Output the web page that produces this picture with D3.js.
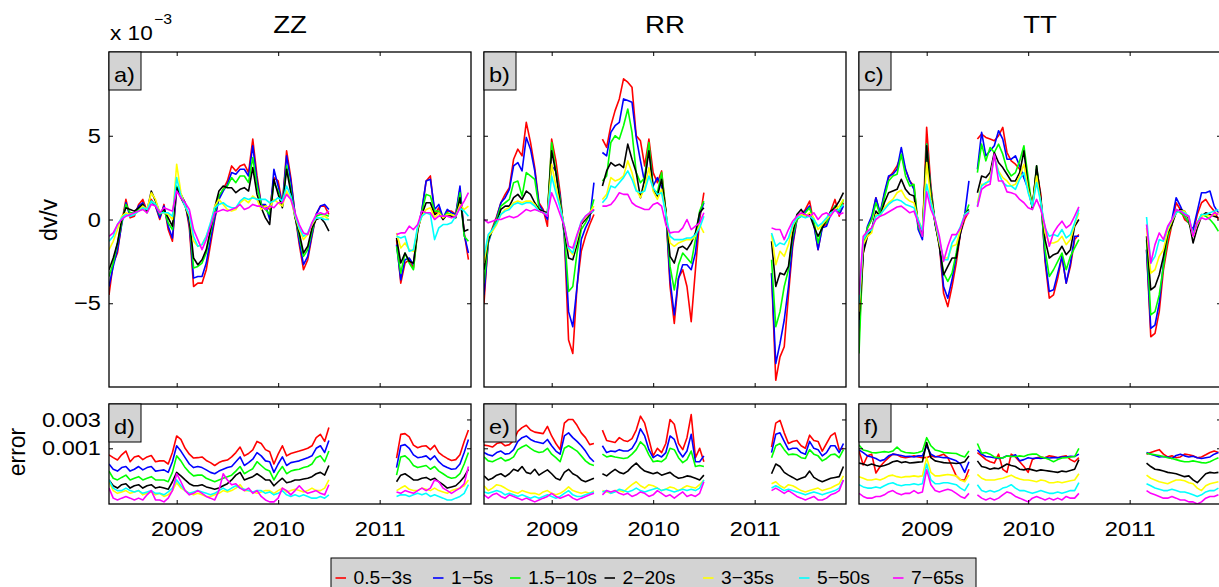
<!DOCTYPE html>
<html>
<head>
<meta charset="utf-8">
<script src="https://cdn.jsdelivr.net/npm/d3@7"></script>
<style>
  body { margin: 0; background: #fff; }
  text { font-family: "Liberation Sans", Arial, Helvetica, sans-serif; fill: #000; }
</style>
</head>
<body>
<svg id="fig" width="1219" height="587"></svg>
<script>
// ---------------------------------------------------------------------------
// Velocity changes (dv/v) and their errors for seven period bands,
// for the ZZ, RR and TT components.  Two campaigns, sampled every half month
// starting May 2008; a null marks a missing sample.
// ---------------------------------------------------------------------------
const _ = null;
const bands = ["0.5−3s", "1−5s", "1.5−10s", "2−20s", "3−35s", "5−50s", "7−65s"];
const bandColors = ["#ff0000", "#0000ff", "#00ff00", "#000000", "#ffff00", "#00ffff", "#ff00ff"];
const components = ["ZZ", "RR", "TT"];
const topTags = ["a)", "b)", "c)"];
const bottomTags = ["d)", "e)", "f)"];
const yearTicks = [2009, 2010, 2011];
const dvvTicks = [-5, 0, 5];
const errTicks = [1, 3];                 // units of 1e-3
const errTickLabels = ["0.001", "0.003"];
const sampleStart = 2008.333, sampleStep = 1 / 24;
const campaignOffsets = [0, 68];

// dv/v (x 1e-3), one row per band: [first campaign, second campaign]
const dvvZZ = [
  [[-4.5,-2.6,-2.0,-0.2,1.2,0.1,0.2,0.9,1.2,0.5,1.2,0.8,0.0,0.9,-0.6,-1.3,1.8,1.5,1.0,-0.5,-4.0,-3.8,-3.8,-3.0,-1.5,0.0,1.3,1.8,2.3,3.2,2.9,3.2,3.3,2.8,4.8,2.6,0.9,0.8,0.6,2.5,2.3,0.9,4.1,2.5,0.3,-1.5,-3.0,-2.4,-1.0,0.3,0.8,0.8,0.3],
   [-1.2,-3.8,-2.6,-2.4,-2.9,-0.7,0.5,2.3,2.6,0.3,0.7,0.0,0.5,0.5,0.3,1.8,-0.8,-2.4]],
  [[-4.0,-2.8,-1.8,-0.3,1.0,0.2,0.3,0.8,1.0,0.5,1.1,0.8,0.1,0.8,-0.4,-1.1,1.8,1.5,1.0,-0.3,-3.5,-3.4,-3.4,-2.6,-1.2,0.1,1.2,1.7,2.1,2.8,2.7,3.0,3.0,2.6,4.4,2.3,0.9,0.9,0.0,3.0,2.0,0.9,3.8,2.3,0.3,-1.3,-2.7,-2.2,-0.9,0.3,0.8,0.9,0.6],
   [-1.5,-3.6,-2.4,-2.3,-2.7,-0.6,0.6,2.3,2.4,0.6,0.9,0.1,0.6,0.4,0.3,2.0,-0.9,-2.0]],
  [[-3.4,-2.6,-1.4,-0.2,0.9,0.4,0.4,0.6,0.9,0.4,1.1,0.9,0.3,0.6,-0.2,-0.6,2.0,1.5,0.9,0.0,-2.9,-2.8,-2.6,-2.0,-0.8,0.4,1.4,1.8,2.0,2.5,2.2,2.6,2.6,2.2,3.7,2.0,0.9,0.6,0.3,2.2,1.7,0.8,3.2,1.8,0.2,-1.0,-2.2,-1.8,-0.7,0.2,0.3,0.3,0.2],
   [-1.6,-3.2,-2.0,-2.6,-3.0,-0.6,0.5,1.5,1.4,0.5,0.5,0.1,0.4,0.3,0.2,1.6,-1.0,-1.3]],
  [[-3.0,-2.3,-1.4,0.0,0.7,0.6,0.5,0.7,0.9,0.5,1.7,1.1,0.4,0.6,0.1,-0.4,1.9,1.3,0.8,0.0,-2.3,-2.7,-2.4,-1.8,-0.6,0.7,1.7,2.0,1.9,1.9,1.6,1.8,1.9,1.7,3.1,1.5,0.7,0.1,-0.3,2.4,1.5,0.7,3.0,1.6,0.1,-0.8,-2.0,-1.6,-0.5,0.0,0.1,-0.2,-0.7],
   [-1.1,-2.6,-2.0,-2.5,-2.6,-0.6,0.3,1.0,1.0,0.3,0.4,0.0,0.3,0.2,0.1,1.3,-0.7,-0.6]],
  [[-1.8,-1.3,-0.6,0.2,0.4,0.3,0.3,0.5,0.8,0.6,1.6,1.2,0.4,0.4,0.3,0.0,3.3,1.6,0.8,0.2,-1.3,-1.6,-1.5,-1.0,-0.3,0.8,1.2,0.9,0.6,0.5,0.6,1.0,1.2,1.0,1.4,1.2,0.6,0.8,0.7,1.2,1.0,0.8,1.7,1.2,0.2,-0.6,-1.2,-0.9,-0.3,0.1,0.1,0.2,0.0],
   [-0.8,-1.7,-1.4,-1.8,-1.9,-0.5,0.2,0.6,0.7,0.1,0.4,0.1,0.3,0.3,0.2,0.9,0.6,0.8]],
  [[-1.3,-1.0,-0.3,0.1,0.3,0.2,0.3,0.5,0.7,0.6,1.1,0.9,0.4,0.4,0.4,0.2,2.5,1.4,0.8,0.3,-1.0,-1.6,-1.5,-1.0,-0.2,0.7,0.9,1.0,0.8,0.7,0.7,1.1,1.3,1.2,1.3,1.2,1.2,1.2,1.0,1.1,1.3,1.1,2.0,1.4,0.3,-0.5,-1.0,-0.8,-0.2,0.1,0.1,0.0,0.0],
   [-1.0,-1.1,-1.0,-1.9,-1.8,-0.4,0.2,0.4,0.3,-1.2,-0.5,-0.3,-0.3,-0.2,0.2,0.7,0.5,0.2]],
  [[-1.0,-0.8,-0.3,0.0,0.2,0.3,0.4,0.5,0.6,0.4,0.9,0.8,0.4,0.7,0.6,0.5,1.7,1.3,1.0,0.6,-0.6,-1.2,-1.8,-1.2,-0.4,0.4,0.5,0.6,0.5,0.6,0.7,0.9,0.6,0.7,0.9,0.8,0.8,0.6,0.8,0.7,1.0,1.0,1.5,1.2,0.4,-0.3,-0.8,-0.9,-0.2,0.3,0.4,0.3,0.5],
   [-0.9,-0.8,-0.8,-0.4,-0.6,-0.3,0.5,0.4,0.4,0.0,0.2,0.2,0.2,0.1,0.2,0.7,1.1,1.6]]
];

const dvvRR = [
  [[-5.0,-1.2,-0.5,0.2,1.0,1.5,1.9,3.6,4.2,3.8,5.8,4.6,3.1,1.0,0.6,-0.4,4.8,3.5,1.6,-1.0,-7.2,-8.0,-4.0,-1.9,-1.0,-0.3,0.3,_,4.8,4.3,5.6,6.5,7.2,8.4,8.2,7.9,5.0,4.7,3.2,4.8,2.8,2.2,2.9,0.5,-4.0,-6.2,-3.5,-3.0,-4.0,-6.1,-3.0,0.0,1.6],
   [-3.2,-9.6,-8.2,-7.6,-4.5,-1.6,0.0,0.3,0.6,1.1,-0.2,-1.8,-0.4,-0.3,0.5,1.2,0.2,1.0]],
  [[-4.5,-1.4,-0.6,0.1,1.0,1.3,1.8,3.2,3.4,2.9,4.9,4.2,2.9,0.9,0.5,0.0,3.2,2.9,1.4,-1.0,-5.5,-6.4,-4.0,-1.2,-0.5,0.0,2.2,_,4.0,3.8,5.2,5.6,5.8,7.2,7.1,7.0,4.9,3.5,2.2,4.4,2.0,2.5,2.0,0.5,-3.6,-5.7,-3.5,-2.7,-2.7,-3.0,-2.0,0.3,1.0],
   [-3.2,-8.6,-7.4,-6.0,-4.0,-1.4,0.0,0.3,0.5,0.8,-0.3,-1.8,-0.5,-0.4,0.3,0.8,0.3,0.8]],
  [[-3.8,-1.3,-0.6,0.0,0.8,1.0,1.2,2.2,2.3,1.4,2.8,2.6,2.4,0.7,0.4,0.3,4.6,2.9,1.2,-0.8,-4.3,-4.0,-2.0,-0.6,-0.2,0.3,1.2,_,2.3,2.6,4.6,5.0,4.8,5.6,6.6,5.2,2.8,2.2,2.5,4.6,1.8,1.6,2.8,0.5,-2.8,-4.2,-2.7,-2.0,-2.3,-2.6,-1.2,0.5,1.1],
   [-2.4,-6.4,-5.5,-4.0,-3.0,-1.0,0.0,0.2,0.4,0.7,-0.1,-1.4,-0.3,-0.2,0.4,0.8,0.5,1.2]],
  [[-3.0,-1.2,-0.6,-0.2,0.6,0.8,0.8,1.3,1.5,1.2,1.7,1.5,1.0,0.6,0.5,0.4,4.1,2.8,1.0,-0.6,-2.3,-2.4,-1.5,-0.3,0.0,0.3,0.6,_,2.0,2.9,3.4,3.2,3.3,3.1,4.5,3.6,2.8,1.3,2.4,4.1,1.8,1.4,2.4,0.5,-2.2,-2.6,-1.7,-1.6,-1.8,-1.4,-0.8,0.4,0.7],
   [-1.3,-4.0,-3.2,-3.3,-2.8,-0.8,0.3,0.6,0.2,0.3,-0.4,-1.0,-0.5,0.0,0.5,0.7,1.1,1.6]],
  [[-2.6,-1.0,-0.7,-0.3,0.3,0.6,0.7,1.0,1.1,1.0,1.1,1.1,0.9,0.5,0.4,0.3,3.3,2.0,0.8,-0.4,-1.8,-2.1,-1.2,-0.2,0.1,0.4,0.8,_,1.2,1.5,2.5,2.3,2.4,2.6,3.5,2.8,1.8,1.3,1.9,3.1,1.7,1.2,1.8,0.4,-1.4,-1.6,-1.4,-1.3,-1.2,-1.2,-1.0,-0.3,-0.8],
   [-0.9,-2.7,-1.9,-2.2,-1.5,-0.4,0.1,0.3,0.2,0.4,0.1,-0.6,-0.3,0.0,0.3,0.6,0.8,1.2]],
  [[-2.2,-0.9,-0.6,-0.2,0.3,0.5,0.6,0.9,1.0,0.9,1.0,1.0,0.8,0.5,0.4,0.3,2.6,1.6,0.7,-0.4,-1.7,-2.0,-1.0,-0.1,0.2,0.4,0.5,_,1.0,1.3,2.0,1.9,2.2,2.5,2.9,2.4,1.7,1.6,1.7,2.6,1.9,1.5,1.6,0.3,-1.0,-1.2,-1.2,-1.2,-1.1,-1.1,-0.9,-0.5,0.2],
   [-0.8,-1.6,-1.4,-1.5,-1.1,-0.3,0.1,0.2,0.1,0.2,0.0,-0.4,-0.2,0.1,0.4,0.5,0.6,0.9]],
  [[0.0,-0.2,-0.1,0.0,0.0,0.1,0.2,0.1,0.2,0.4,0.6,0.5,0.6,0.5,0.4,0.2,1.6,1.0,0.3,-0.4,-1.6,-1.7,-0.9,-0.2,0.2,0.4,0.6,_,0.8,0.8,0.9,1.2,1.6,1.5,1.5,1.0,0.8,0.7,0.6,0.6,0.9,1.0,0.8,-0.3,-0.8,-0.75,-0.75,-0.5,0.0,-0.6,-0.4,-0.2,0.4],
   [-0.5,-0.6,-0.6,-1.2,-0.6,-0.1,0.2,0.4,0.3,0.2,0.4,0.0,0.3,0.4,0.2,0.6,0.3,0.4]]
];

const dvvTT = [
  [[-7.0,-2.0,-0.5,0.0,1.3,0.3,1.5,2.5,2.8,3.2,3.8,3.0,2.3,2.0,-0.4,-1.0,5.5,2.0,-0.2,-1.5,-4.4,-5.2,-4.0,-2.6,-0.8,0.0,0.5,_,4.8,5.1,4.9,4.8,4.7,5.0,5.5,4.0,3.5,3.3,3.0,2.5,2.0,0.8,3.0,1.5,-2.5,-4.7,-4.5,-3.5,-2.2,-3.8,-2.8,-1.2,-0.9],
   [-1.8,-7.0,-6.8,-5.5,-3.0,-1.5,-0.3,1.0,0.6,0.0,-0.2,-0.8,0.3,1.0,1.2,0.8,0.5,0.0]],
  [[-6.5,-1.8,-0.4,0.2,1.3,0.4,1.6,2.6,2.7,3.0,4.3,3.0,2.3,1.8,-0.6,-1.2,4.5,1.8,-0.3,-1.4,-4.0,-4.7,-3.6,-2.2,-0.8,0.3,2.3,_,3.0,5.2,3.8,4.1,4.4,5.3,4.8,3.6,3.6,3.8,3.2,2.5,1.8,0.7,3.0,1.2,-2.3,-4.3,-4.2,-3.2,-2.2,-3.8,-2.6,-1.0,-1.0],
   [-1.8,-6.5,-6.3,-5.0,-2.6,-1.0,0.0,1.3,0.8,0.2,-0.2,-0.6,0.5,1.6,1.6,1.7,0.8,0.4]],
  [[-8.0,-1.5,-0.5,0.0,1.0,0.3,1.3,2.3,2.6,2.7,3.9,2.6,2.0,2.1,-0.4,-1.0,4.5,1.7,-0.2,-1.5,-3.2,-3.7,-3.2,-2.0,-0.6,0.2,0.9,_,2.8,4.5,3.5,4.3,4.0,4.5,3.9,3.0,2.6,2.8,3.5,4.4,2.5,0.6,3.2,1.0,-1.8,-3.4,-3.0,-2.5,-2.0,-3.0,-2.2,-1.7,-1.2],
   [-1.2,-5.7,-5.5,-4.5,-2.8,-1.0,-0.3,0.6,0.4,0.2,-0.2,-0.9,-0.2,0.3,0.2,0.0,-0.3,-0.7]],
  [[-6.0,-2.0,-1.0,-0.6,0.5,0.2,1.0,1.6,1.7,1.8,2.4,1.8,1.5,1.4,-0.2,-0.8,4.4,1.5,-0.2,-1.6,-3.3,-2.8,-2.3,-2.3,-0.8,0.3,0.6,_,1.6,2.6,2.5,2.8,4.0,3.4,3.1,2.7,2.3,2.3,2.8,4.1,2.0,0.7,3.2,1.2,-1.2,-2.3,-2.1,-2.0,-1.6,-2.1,-1.8,-0.4,0.0],
   [-1.0,-4.2,-4.0,-3.3,-2.2,-0.8,-0.3,0.4,0.6,0.5,0.0,-1.4,-0.5,0.2,0.4,0.3,0.2,0.1]],
  [[-5.5,-1.5,-1.0,-0.8,0.3,0.2,0.7,1.0,1.2,1.6,1.75,1.3,1.1,1.0,0.0,-0.6,3.4,1.2,-0.1,-1.4,-2.3,-2.3,-1.6,-1.5,-0.6,0.3,0.5,_,1.0,2.1,2.1,2.5,3.8,2.9,2.5,2.3,2.0,2.1,2.6,3.3,1.8,0.8,2.6,1.0,-0.8,-1.4,-1.4,-1.3,-1.0,-1.5,-1.2,-0.3,0.4],
   [-0.5,-3.2,-3.0,-2.2,-1.8,-0.7,-0.1,0.4,0.5,0.5,0.1,-1.0,-0.3,0.2,0.3,0.2,0.3,0.4]],
  [[-5.0,-1.2,-0.8,-0.6,0.2,0.3,0.6,0.9,1.1,1.2,1.1,0.9,0.8,0.7,0.0,-0.7,2.1,1.0,0.0,-1.2,-2.4,-2.4,-1.4,-1.0,-0.4,0.3,0.5,_,0.8,2.0,2.2,2.3,3.8,2.8,2.2,2.0,2.0,1.8,2.4,2.8,1.6,0.8,2.2,1.0,-0.5,-1.0,-0.9,-1.0,-0.6,-1.1,-0.9,-0.2,0.6],
   [0.15,-2.6,-2.2,-1.2,-1.3,-0.5,0.0,0.4,0.5,0.4,0.2,-0.9,-0.2,0.3,0.3,0.4,0.5,0.6]],
  [[-4.5,-1.0,-0.7,-0.5,0.0,0.2,0.3,0.45,0.6,0.75,0.8,0.6,0.4,0.5,-0.2,-1.0,1.65,0.6,0.0,-1.0,-2.5,-1.6,-0.9,-0.9,-0.5,0.2,0.4,_,0.75,1.8,2.0,2.1,3.9,2.3,2.3,1.65,1.6,1.5,1.2,1.0,0.7,0.6,1.2,0.6,-0.4,-1.6,-0.8,-0.4,-0.1,-0.5,-0.3,0.2,0.75],
   [-0.3,-2.6,-1.5,-0.8,-1.2,-0.4,0.0,0.6,0.5,0.3,0.2,-1.0,-0.2,0.1,0.0,0.1,0.4,0.3]]
];

// errors (x 1e-3)
const errZZ = [
  [[0.78,0.70,0.64,0.78,0.9,0.6,0.72,0.75,0.65,0.72,0.76,0.6,0.62,0.62,0.55,0.85,1.6,1.4,1.0,0.8,0.69,0.7,0.72,0.63,0.58,0.52,0.58,0.62,0.64,0.72,0.85,1.05,0.75,0.82,0.94,1.3,1.2,0.95,0.88,0.55,0.8,1.1,0.75,0.82,0.86,0.9,0.95,1.0,1.1,1.5,1.7,1.3,2.2],
   [0.69,1.7,1.75,1.55,1.13,1.02,1.08,1.1,0.95,1.12,0.85,0.75,0.68,0.63,0.65,0.78,1.3,2.0]],
  [[0.55,0.45,0.42,0.48,0.5,0.42,0.45,0.5,0.44,0.48,0.5,0.42,0.43,0.44,0.4,0.6,1.1,0.9,0.7,0.55,0.48,0.5,0.48,0.44,0.4,0.38,0.42,0.45,0.48,0.5,0.6,0.72,0.52,0.58,0.66,0.85,0.75,0.62,0.6,0.4,0.55,0.72,0.52,0.58,0.6,0.62,0.66,0.7,0.75,1.0,1.1,0.85,1.35],
   [0.48,1.1,1.15,1.0,0.78,0.7,0.72,0.75,0.65,0.75,0.6,0.52,0.48,0.45,0.46,0.55,0.85,1.4]],
  [[0.42,0.32,0.3,0.33,0.36,0.3,0.32,0.34,0.3,0.32,0.34,0.3,0.3,0.3,0.28,0.4,0.75,0.62,0.48,0.4,0.35,0.36,0.36,0.32,0.3,0.28,0.3,0.32,0.34,0.36,0.42,0.5,0.38,0.42,0.46,0.6,0.52,0.45,0.42,0.3,0.4,0.5,0.38,0.42,0.44,0.45,0.48,0.5,0.55,0.7,0.75,0.6,0.9],
   [0.36,0.72,0.75,0.65,0.52,0.48,0.5,0.52,0.45,0.5,0.42,0.38,0.34,0.32,0.33,0.38,0.55,0.85]],
  [[0.3,0.24,0.22,0.25,0.26,0.22,0.24,0.25,0.22,0.24,0.25,0.22,0.23,0.22,0.21,0.28,0.4,0.35,0.3,0.26,0.24,0.24,0.25,0.23,0.22,0.21,0.22,0.24,0.26,0.3,0.36,0.4,0.3,0.32,0.34,0.38,0.34,0.3,0.3,0.24,0.28,0.32,0.27,0.28,0.3,0.3,0.31,0.32,0.34,0.38,0.4,0.36,0.52],
   [0.28,0.36,0.38,0.34,0.3,0.3,0.32,0.33,0.3,0.32,0.28,0.25,0.22,0.23,0.24,0.28,0.34,0.45]],
  [[0.28,0.2,0.18,0.19,0.2,0.18,0.19,0.2,0.17,0.18,0.19,0.17,0.18,0.16,0.17,0.2,0.27,0.22,0.2,0.18,0.17,0.18,0.17,0.16,0.16,0.17,0.18,0.2,0.19,0.2,0.22,0.25,0.2,0.2,0.19,0.18,0.19,0.2,0.2,0.18,0.2,0.22,0.19,0.2,0.21,0.2,0.19,0.2,0.22,0.2,0.2,0.22,0.3],
   [0.2,0.22,0.24,0.21,0.2,0.2,0.22,0.21,0.2,0.22,0.2,0.19,0.18,0.2,0.21,0.22,0.24,0.3]],
  [[0.3,0.22,0.2,0.2,0.22,0.2,0.19,0.2,0.18,0.19,0.2,0.18,0.18,0.17,0.19,0.22,0.3,0.24,0.2,0.18,0.19,0.2,0.19,0.18,0.17,0.18,0.2,0.22,0.2,0.22,0.24,0.22,0.21,0.2,0.19,0.2,0.2,0.18,0.19,0.17,0.18,0.2,0.17,0.16,0.17,0.16,0.17,0.16,0.15,0.15,0.16,0.15,0.17],
   [0.16,0.17,0.17,0.16,0.17,0.18,0.17,0.18,0.16,0.17,0.16,0.15,0.14,0.14,0.15,0.16,0.18,0.25]],
  [[0.22,0.15,0.14,0.15,0.16,0.15,0.14,0.15,0.14,0.17,0.2,0.14,0.14,0.13,0.15,0.2,0.38,0.28,0.2,0.17,0.18,0.2,0.18,0.16,0.15,0.14,0.2,0.38,0.3,0.25,0.26,0.22,0.2,0.22,0.18,0.2,0.16,0.14,0.13,0.13,0.15,0.22,0.2,0.17,0.2,0.24,0.2,0.18,0.19,0.2,0.18,0.17,0.25],
   [0.19,0.18,0.2,0.19,0.18,0.2,0.22,0.2,0.22,0.3,0.28,0.22,0.2,0.18,0.2,0.22,0.26,0.5]]
];

const errRR = [
  [[1.13,1.1,1.05,1.2,1.25,1.1,1.15,1.35,1.9,2.2,2.4,2.0,1.85,1.8,1.75,2.3,1.6,1.2,0.95,2.6,3.0,3.0,2.4,1.8,1.5,1.15,1.2,_,2.0,1.35,1.3,1.25,1.5,1.35,1.3,1.45,2.0,3.4,2.6,1.4,0.75,1.0,0.85,1.2,3.0,2.5,1.2,0.95,1.5,3.6,0.7,1.0,0.6],
   [1.05,2.6,2.9,1.8,1.2,1.3,1.35,1.1,1.0,1.65,1.35,1.3,0.9,1.2,1.6,1.8,0.95,1.0]],
  [[0.85,0.78,0.75,0.85,0.9,0.8,0.82,0.95,1.3,1.5,1.6,1.4,1.3,1.25,1.2,1.4,1.1,0.9,0.8,1.6,1.8,1.5,1.3,1.1,0.9,0.7,0.6,_,1.1,0.85,0.9,0.88,0.95,0.9,0.9,1.0,1.3,2.1,1.6,0.95,0.7,0.78,0.72,0.85,1.6,1.4,0.9,0.72,0.9,1.7,0.6,0.6,0.75],
   [0.85,1.7,1.8,1.3,0.95,1.0,1.0,0.85,0.8,1.3,1.0,0.95,0.75,0.85,1.1,1.1,0.85,1.2]],
  [[0.72,0.62,0.6,0.65,0.7,0.62,0.65,0.72,0.95,1.05,1.13,1.0,0.9,0.85,0.88,1.0,0.8,0.7,0.6,1.0,1.1,1.0,0.9,0.75,0.62,0.55,0.52,_,0.8,0.72,0.75,0.72,0.7,0.68,0.7,0.8,0.95,1.28,1.1,0.78,0.6,0.62,0.6,0.68,1.0,0.95,0.7,0.58,0.65,0.9,0.5,0.52,0.5],
   [0.7,1.1,1.2,0.95,0.78,0.8,0.78,0.7,0.68,0.95,0.8,0.75,0.62,0.68,0.78,0.8,0.7,0.95]],
  [[0.35,0.3,0.32,0.36,0.38,0.34,0.38,0.45,0.42,0.5,0.4,0.38,0.45,0.36,0.4,0.44,0.38,0.32,0.3,0.4,0.45,0.38,0.35,0.3,0.28,0.3,0.32,_,0.38,0.35,0.4,0.45,0.4,0.38,0.42,0.5,0.57,0.48,0.42,0.4,0.38,0.4,0.36,0.38,0.4,0.35,0.32,0.33,0.35,0.34,0.32,0.3,0.36],
   [0.38,0.55,0.5,0.4,0.36,0.33,0.3,0.32,0.34,0.42,0.33,0.3,0.28,0.3,0.32,0.33,0.34,0.5]],
  [[0.24,0.2,0.22,0.25,0.24,0.22,0.2,0.19,0.18,0.2,0.19,0.18,0.18,0.17,0.19,0.2,0.18,0.17,0.18,0.2,0.23,0.2,0.19,0.18,0.19,0.18,0.2,_,0.2,0.19,0.18,0.2,0.2,0.19,0.22,0.25,0.28,0.24,0.22,0.25,0.24,0.22,0.2,0.21,0.23,0.22,0.2,0.22,0.24,0.23,0.22,0.25,0.3],
   [0.26,0.28,0.24,0.22,0.25,0.24,0.22,0.2,0.19,0.2,0.21,0.22,0.2,0.21,0.22,0.24,0.26,0.35]],
  [[0.19,0.18,0.19,0.2,0.19,0.17,0.18,0.17,0.16,0.17,0.16,0.15,0.16,0.15,0.16,0.17,0.16,0.15,0.16,0.18,0.2,0.17,0.16,0.16,0.17,0.18,0.19,_,0.19,0.2,0.18,0.19,0.21,0.2,0.19,0.2,0.22,0.2,0.19,0.2,0.21,0.22,0.2,0.21,0.2,0.19,0.2,0.21,0.2,0.21,0.2,0.22,0.3],
   [0.22,0.24,0.22,0.2,0.21,0.2,0.19,0.18,0.17,0.18,0.19,0.18,0.17,0.18,0.19,0.2,0.22,0.3]],
  [[0.17,0.15,0.17,0.18,0.16,0.15,0.17,0.16,0.15,0.14,0.15,0.14,0.13,0.14,0.15,0.16,0.18,0.16,0.15,0.16,0.17,0.15,0.14,0.15,0.16,0.17,0.18,_,0.17,0.2,0.19,0.2,0.18,0.17,0.18,0.16,0.17,0.19,0.18,0.16,0.17,0.2,0.18,0.16,0.17,0.15,0.17,0.19,0.16,0.17,0.16,0.18,0.28],
   [0.2,0.22,0.2,0.18,0.2,0.18,0.16,0.15,0.14,0.15,0.16,0.14,0.14,0.15,0.17,0.18,0.2,0.3]]
];

const errTT = [
  [[0.9,0.53,0.75,0.8,0.39,0.5,0.6,0.7,0.8,0.78,0.72,0.7,0.72,0.75,0.72,0.7,0.7,0.75,0.72,0.75,0.8,0.7,0.5,0.35,0.3,0.3,0.45,_,0.85,0.75,0.65,0.6,0.57,0.8,0.45,0.4,0.8,0.72,0.6,0.5,0.4,0.65,0.7,0.72,0.7,0.75,0.73,0.7,0.73,0.75,0.65,0.6,0.7],
   [0.8,0.85,0.9,0.95,0.8,0.72,0.75,0.7,0.72,0.8,0.78,0.75,0.7,0.72,0.78,0.85,0.9,0.85]],
  [[0.94,0.85,0.75,0.72,0.68,0.62,0.65,0.75,0.8,0.78,0.76,0.73,0.74,0.72,0.75,0.75,1.1,0.8,0.73,0.72,0.7,0.7,0.66,0.62,0.55,0.4,0.6,_,0.94,0.8,0.73,0.72,0.7,0.68,0.7,0.75,0.73,0.78,0.62,0.65,0.7,0.68,0.69,0.68,0.7,0.69,0.7,0.7,0.72,0.72,0.74,0.73,0.8],
   [0.85,0.8,0.76,0.72,0.73,0.72,0.68,0.76,0.8,0.75,0.72,0.74,0.7,0.68,0.7,0.72,0.8,0.85]],
  [[1.13,0.94,0.9,0.85,0.84,0.86,0.88,0.86,0.9,1.05,0.9,0.85,0.84,0.83,0.85,0.9,1.5,1.1,0.94,0.9,0.85,0.84,0.83,0.82,0.76,0.72,0.9,_,1.2,0.83,0.85,0.8,0.72,0.7,0.69,0.75,0.73,0.73,0.75,0.73,0.78,0.8,0.8,0.72,0.69,0.65,0.6,0.65,0.69,0.7,0.72,0.73,1.0],
   [0.83,0.8,0.78,0.76,0.73,0.7,0.68,0.65,0.62,0.6,0.6,0.62,0.6,0.58,0.57,0.6,0.65,0.7]],
  [[0.57,0.55,0.52,0.55,0.52,0.5,0.52,0.55,0.6,0.62,0.58,0.6,0.57,0.58,0.59,0.6,1.25,0.7,0.62,0.6,0.58,0.57,0.57,0.56,0.57,0.6,0.75,_,0.62,0.5,0.48,0.45,0.47,0.46,0.5,0.55,0.52,0.5,0.45,0.44,0.46,0.44,0.42,0.44,0.43,0.42,0.41,0.4,0.42,0.41,0.43,0.45,0.65],
   [0.57,0.5,0.45,0.44,0.42,0.4,0.39,0.38,0.36,0.34,0.35,0.3,0.27,0.32,0.38,0.4,0.39,0.4]],
  [[0.34,0.32,0.3,0.3,0.31,0.3,0.32,0.35,0.36,0.34,0.33,0.34,0.34,0.35,0.34,0.35,0.7,0.4,0.35,0.35,0.36,0.37,0.36,0.35,0.3,0.28,0.36,_,0.37,0.32,0.3,0.3,0.3,0.31,0.32,0.34,0.36,0.33,0.31,0.3,0.3,0.29,0.28,0.3,0.29,0.27,0.27,0.28,0.27,0.28,0.29,0.3,0.38],
   [0.36,0.32,0.3,0.28,0.27,0.26,0.28,0.3,0.3,0.29,0.27,0.26,0.22,0.2,0.24,0.26,0.27,0.28]],
  [[0.25,0.23,0.22,0.22,0.23,0.22,0.24,0.26,0.27,0.25,0.24,0.25,0.25,0.26,0.25,0.26,0.55,0.3,0.26,0.26,0.27,0.27,0.26,0.25,0.22,0.2,0.26,_,0.25,0.2,0.19,0.2,0.19,0.2,0.22,0.23,0.25,0.22,0.2,0.2,0.19,0.18,0.19,0.2,0.19,0.18,0.18,0.19,0.18,0.19,0.2,0.2,0.27],
   [0.26,0.24,0.22,0.21,0.2,0.2,0.21,0.2,0.19,0.19,0.18,0.17,0.16,0.17,0.19,0.2,0.2,0.22]],
  [[0.18,0.16,0.15,0.15,0.16,0.16,0.17,0.19,0.2,0.18,0.17,0.18,0.18,0.2,0.18,0.19,0.44,0.25,0.2,0.19,0.2,0.21,0.2,0.18,0.16,0.15,0.18,_,0.17,0.15,0.14,0.15,0.14,0.15,0.17,0.19,0.18,0.16,0.15,0.14,0.13,0.15,0.16,0.15,0.14,0.15,0.14,0.15,0.14,0.16,0.15,0.15,0.18],
   [0.2,0.18,0.17,0.16,0.15,0.15,0.16,0.15,0.14,0.14,0.13,0.13,0.12,0.13,0.15,0.16,0.16,0.17]]
];

const dvvByComponent = [dvvZZ, dvvRR, dvvTT];
const errByComponent = [errZZ, errRR, errTT];

// ---------------------------------------------------------------------------
// Layout
// ---------------------------------------------------------------------------
const svg = d3.select("#fig");
const panelLeft = [109, 484, 859];
const panelWidth = 362;
const topBox = { y0: 52, y1: 387 };
const botBox = { y0: 404, y1: 504 };
const xDomain = [2008.333, 2011.9];
const STRETCH = 1.15;   // the figure's lettering is set slightly wide

const yDvv = d3.scaleLinear().domain([-10, 10]).range([topBox.y1, topBox.y0]);
const yErr = d3.scaleLog().domain([0.12, 5.4]).range([botBox.y1, botBox.y0]);

function wideText(parent, x, y, str, size, anchor, sx = STRETCH) {
  return parent.append("text")
    .attr("transform", `translate(${x},${y}) scale(${sx},1)`)
    .attr("text-anchor", anchor)
    .attr("font-size", size)
    .text(str);
}

function toPoints(segments) {
  const pts = [];
  segments.forEach((seg, si) => {
    if (si > 0) pts.push({ t: null, v: null });
    seg.forEach((v, i) => pts.push({ t: sampleStart + (campaignOffsets[si] + i) * sampleStep, v }));
  });
  return pts;
}

function styleAxis(g) {
  g.select(".domain").remove();
  g.attr("font-size", 20.5).attr("font-family", '"Liberation Sans", Arial, sans-serif');
  g.selectAll(".tick line").attr("stroke", "#000").attr("stroke-width", 1);
  g.selectAll(".tick text").attr("fill", "#000").attr("transform", `scale(${STRETCH},1)`);
}

let clipId = 0;
function drawPanel(col, x, y, box, series, yTicks, yLabel, showXLabels, tag) {
  const left = panelLeft[col], right = left + panelWidth;
  const id = "clip" + (clipId++);
  svg.append("clipPath").attr("id", id)
    .append("rect").attr("x", left).attr("y", box.y0)
    .attr("width", panelWidth).attr("height", box.y1 - box.y0);

  const line = d3.line()
    .defined(d => d.v != null)
    .x(d => x(d.t))
    .y(d => y(d.v));

  const lines = svg.append("g").attr("clip-path", `url(#${id})`);
  series.forEach((segs, bi) => {
    lines.append("path")
      .datum(toPoints(segs))
      .attr("fill", "none")
      .attr("stroke", bandColors[bi])
      .attr("stroke-width", 1.6)
      .attr("stroke-linejoin", "round")
      .attr("d", line);
  });

  // inward ticks on all four sides
  svg.append("g").attr("transform", `translate(0,${box.y1})`)
    .call(d3.axisBottom(x).tickValues(yearTicks).tickSize(-4).tickPadding(17)
      .tickFormat(showXLabels ? d3.format("d") : () => ""))
    .call(styleAxis);
  svg.append("g").attr("transform", `translate(0,${box.y0})`)
    .call(d3.axisTop(x).tickValues(yearTicks).tickSize(-4).tickFormat(() => ""))
    .call(styleAxis);
  svg.append("g").attr("transform", `translate(${left},0)`)
    .call(d3.axisLeft(y).tickValues(yTicks).tickSize(-4).tickPadding(7)
      .tickFormat(col === 0 ? yLabel : () => ""))
    .call(styleAxis);
  svg.append("g").attr("transform", `translate(${right},0)`)
    .call(d3.axisRight(y).tickValues(yTicks).tickSize(-4).tickFormat(() => ""))
    .call(styleAxis);

  // frame
  svg.append("rect")
    .attr("x", left).attr("y", box.y0)
    .attr("width", panelWidth).attr("height", box.y1 - box.y0)
    .attr("fill", "none").attr("stroke", "#000").attr("stroke-width", 1.3);

  // panel tag
  svg.append("rect")
    .attr("x", left).attr("y", box.y0).attr("width", 32).attr("height", 38)
    .attr("fill", "#d3d3d3").attr("stroke", "#000").attr("stroke-width", 1);
  wideText(svg, left + 5, box.y0 + 30, tag, 20.5, "start");
}

components.forEach((comp, col) => {
  const left = panelLeft[col];
  const x = d3.scaleLinear().domain(xDomain).range([left, left + panelWidth]);

  drawPanel(col, x, yDvv, topBox, dvvByComponent[col], dvvTicks,
    d => (d < 0 ? "−" + Math.abs(d) : String(d)), false, topTags[col]);
  drawPanel(col, x, yErr, botBox, errByComponent[col], errTicks,
    d => errTickLabels[errTicks.indexOf(d)], true, bottomTags[col]);

  wideText(svg, left + panelWidth / 2, 33, comp, 24, "middle");
});

// exponent note and axis titles
wideText(svg, 110, 40, "x 10", 20, "start", 1.13);
wideText(svg, 154, 24, "−3", 14, "start", 1.13);

svg.append("text")
  .attr("transform", "translate(57,220) rotate(-90)")
  .attr("text-anchor", "middle").attr("font-size", 23).text("dv/v");
svg.append("text")
  .attr("transform", "translate(25,452) rotate(-90)")
  .attr("text-anchor", "middle").attr("font-size", 23).text("error");

// legend
const legend = svg.append("g");
legend.append("rect")
  .attr("x", 331).attr("y", 558).attr("width", 645).attr("height", 40)
  .attr("fill", "#d3d3d3").attr("stroke", "#000").attr("stroke-width", 1);
const legendX = [335.5, 433, 510, 604.5, 703, 799, 893];
bands.forEach((b, i) => {
  const lx = legendX[i];
  legend.append("line")
    .attr("x1", lx).attr("x2", lx + 10.5).attr("y1", 578).attr("y2", 578)
    .attr("stroke", bandColors[i]).attr("stroke-width", 1.6);
  wideText(legend, lx + 18, 584, b, 18.5, "start", 1.04);
});
</script>
</body>
</html>
